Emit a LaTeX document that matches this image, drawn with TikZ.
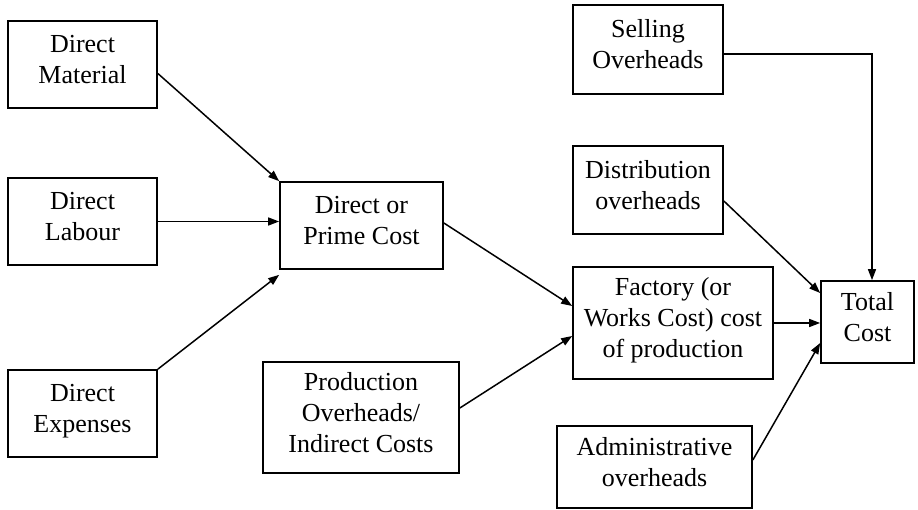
\documentclass[tikz,border=0pt]{standalone}
\usepackage{fontspec}
\setmainfont{Liberation Serif}
\usetikzlibrary{arrows.meta}
\begin{document}
\begin{tikzpicture}[x=1pt,y=-1pt,
  box/.style={draw,line width=1.7pt,rectangle,align=center,inner sep=0pt,
    text depth=11pt,font=\fontsize{26}{31}\selectfont},
  arr/.style={line width=1.5pt,-{Triangle[length=11pt,width=8pt]}}]
\useasboundingbox (0,0) rectangle (918,510);
\node[box,minimum width=149pt,minimum height=87pt] (dm) at (82.5,64.5) {Direct\\Material};
\node[box,minimum width=149pt,minimum height=87pt] (dl) at (82.5,221.5) {Direct\\Labour};
\node[box,minimum width=149pt,minimum height=87pt] (de) at (82.5,413.5) {Direct\\Expenses};
\node[box,minimum width=163pt,minimum height=87pt] (pc) at (361.5,225.5) {Direct or\\Prime Cost};
\node[box,minimum width=196pt,minimum height=111pt] (po) at (361,417.5) {Production\\Overheads/\\Indirect Costs};
\node[box,minimum width=200pt,minimum height=112pt] (fc) at (673,323) {Factory (or\\Works Cost) cost\\of production};
\node[box,minimum width=93pt,minimum height=82pt] (tc) at (867.5,322) {Total\\Cost};
\node[box,minimum width=150pt,minimum height=89pt] (so) at (648,49.5) {Selling\\Overheads};
\node[box,minimum width=150pt,minimum height=88pt] (dist) at (648,190) {Distribution\\overheads};
\node[box,minimum width=195pt,minimum height=82pt] (adm) at (654.5,467) {Administrative\\overheads};

\draw[arr] ([yshift=-9pt]dm.east) -- (pc.north west);
\draw[arr] (dl.east) -- (dl.east -| pc.west);
\draw[arr] (de.north east) -- ([yshift=-5pt]pc.south west);
\draw[arr] ([yshift=2.5pt]pc.east) -- ([yshift=17pt]fc.west);
\draw[arr] ([yshift=9.5pt]po.east) -- ([yshift=-13pt]fc.west);
\draw[arr] (fc.east) -- (fc.east -| tc.west);
\draw[arr] ([yshift=-4.5pt]so.east) -| ([xshift=4.5pt]tc.north);
\draw[arr] ([yshift=-11pt]dist.east) -- ([yshift=29pt]tc.west);
\draw[arr] ([yshift=7pt]adm.east) -- ([yshift=-21pt]tc.west);
\end{tikzpicture}
\end{document}
